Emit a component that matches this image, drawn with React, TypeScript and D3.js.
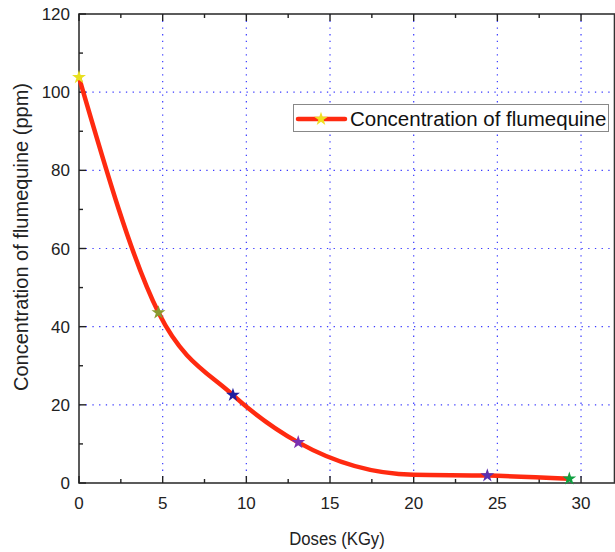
import { useRef, useEffect } from 'react';
import * as d3 from 'd3';

// measured doses; the 20 kGy point is a curve knot without a star in the original plot
const doses = [0, 4.75, 9.2, 13.1, 20, 24.4, 29.3];
const concentration = [103.8, 43.6, 22.5, 10.4, 2.1, 1.9, 1.1];
const starColors = ['#e8e020', '#8a9a30', '#2020a0', '#7a30b0', null, '#5a30b0', '#10a040'];
const xTicks = [0, 5, 10, 15, 20, 25, 30];
const yTicks = [0, 20, 40, 60, 80, 100, 120];
const seriesName = 'Concentration of flumequine';

const App = () => {
  const svgRef = useRef<SVGSVGElement>(null);

  useEffect(() => {
    const svg = d3.select(svgRef.current);
    svg.selectAll('*').remove();

    const left = 79;
    const right = 614.5;
    const top = 14;
    const bottom = 483;
    const font = 'Liberation Sans, Arial, sans-serif';

    const x = d3.scaleLinear().domain([0, 32]).range([left, right]);
    const y = d3.scaleLinear().domain([0, 120]).range([bottom, top]);

    // grid
    const grid = svg.append('g');
    grid
      .selectAll('line.vx')
      .data(xTicks.filter((d) => d > 0))
      .join('line')
      .attr('x1', (d) => x(d))
      .attr('x2', (d) => x(d))
      .attr('y1', top)
      .attr('y2', bottom)
      .attr('stroke', '#3a3aff')
      .attr('stroke-width', 1.2)
      .attr('stroke-dasharray', '1.3,5.4');
    grid
      .selectAll('line.hy')
      .data(yTicks.filter((d) => d > 0 && d < 120))
      .join('line')
      .attr('x1', left)
      .attr('x2', right)
      .attr('y1', (d) => y(d))
      .attr('y2', (d) => y(d))
      .attr('stroke', '#3a3aff')
      .attr('stroke-width', 1.2)
      .attr('stroke-dasharray', '1.3,5.4');

    // frame
    svg
      .append('rect')
      .attr('x', left)
      .attr('y', top)
      .attr('width', right - left)
      .attr('height', bottom - top)
      .attr('fill', 'none')
      .attr('stroke', '#333')
      .attr('stroke-width', 1.6);

    // ticks (inward)
    const minorX = d3.range(0, 32.1, 2.5);
    const minorY = d3.range(0, 120.1, 10);
    const tk = svg.append('g').attr('stroke', '#222').attr('stroke-width', 1.4);
    minorX.forEach((v) => {
      const len = v % 5 === 0 ? 7 : 4;
      tk.append('line').attr('x1', x(v)).attr('x2', x(v)).attr('y1', bottom).attr('y2', bottom - len);
      tk.append('line').attr('x1', x(v)).attr('x2', x(v)).attr('y1', top).attr('y2', top + len);
    });
    minorY.forEach((v) => {
      const len = v % 20 === 0 ? 7 : 4;
      tk.append('line').attr('x1', left).attr('x2', left + len).attr('y1', y(v)).attr('y2', y(v));
    });

    // tick labels
    svg
      .selectAll('text.xt')
      .data(xTicks)
      .join('text')
      .attr('x', (d) => x(d))
      .attr('y', 509)
      .attr('text-anchor', 'middle')
      .attr('font-family', font)
      .attr('font-size', 17)
      .attr('fill', '#222')
      .text((d) => d);
    svg
      .selectAll('text.yt')
      .data(yTicks)
      .join('text')
      .attr('x', 70)
      .attr('y', (d) => y(d) + 6)
      .attr('text-anchor', 'end')
      .attr('font-family', font)
      .attr('font-size', 17)
      .attr('fill', '#222')
      .text((d) => d);

    // axis titles
    svg
      .append('text')
      .attr('transform', 'translate(337,545) scale(0.88,1)')
      .attr('text-anchor', 'middle')
      .attr('font-family', font)
      .attr('font-size', 19)
      .attr('fill', '#222')
      .text('Doses (KGy)');
    svg
      .append('text')
      .attr('transform', 'translate(28,237) rotate(-90)')
      .attr('text-anchor', 'middle')
      .attr('font-family', font)
      .attr('font-size', 20)
      .attr('fill', '#222')
      .text('Concentration of flumequine (ppm)');

    // curve
    const pts = doses.map((d, i) => [d, concentration[i]] as [number, number]);
    const line = d3
      .line<[number, number]>()
      .x((d) => x(d[0]))
      .y((d) => y(d[1]))
      .curve(d3.curveMonotoneX);
    svg
      .append('path')
      .attr('d', line(pts))
      .attr('fill', 'none')
      .attr('stroke', '#ff2a10')
      .attr('stroke-width', 4.5)
      .attr('stroke-linecap', 'round');

    const star = d3.symbol().type(d3.symbolStar).size(60);
    svg
      .selectAll('path.star')
      .data(pts.map((p, i) => ({ p, c: starColors[i] })).filter((d) => d.c))
      .join('path')
      .attr('transform', (d) => `translate(${x(d.p[0])},${y(d.p[1])})`)
      .attr('d', star())
      .attr('fill', (d) => d.c as string);

    // legend
    const lg = svg.append('g');
    lg.append('rect')
      .attr('x', 293.5)
      .attr('y', 104.5)
      .attr('width', 315)
      .attr('height', 27)
      .attr('fill', '#fff')
      .attr('stroke', '#888')
      .attr('stroke-width', 1);
    lg.append('line')
      .attr('x1', 298)
      .attr('x2', 345)
      .attr('y1', 119)
      .attr('y2', 119)
      .attr('stroke', '#ff2a10')
      .attr('stroke-width', 4.5)
      .attr('stroke-linecap', 'round');
    lg.append('path')
      .attr('transform', 'translate(321,119)')
      .attr('d', star())
      .attr('fill', '#f0e020');
    lg.append('text')
      .attr('x', 350)
      .attr('y', 126)
      .attr('font-family', font)
      .attr('font-size', 20.5)
      .attr('fill', '#111')
      .text(seriesName);
  }, []);

  return (
    <svg
      ref={svgRef}
      width={615}
      height={552}
      style={{ position: 'absolute', left: 0, top: 0, background: '#fff' }}
    />
  );
};

export default App;
